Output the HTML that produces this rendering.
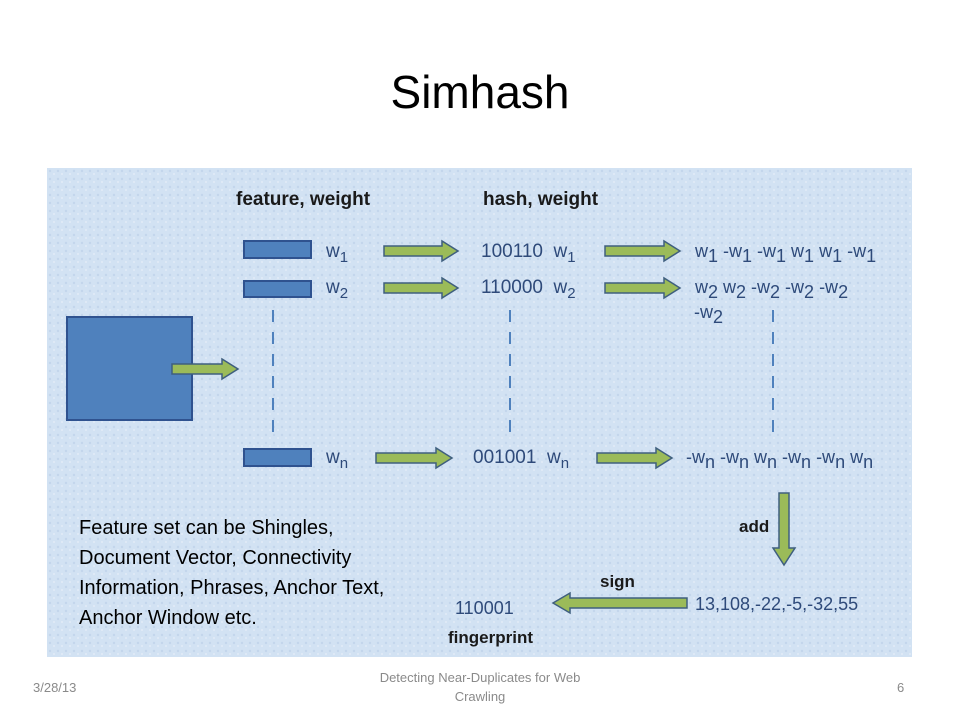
<!DOCTYPE html>
<html><head><meta charset="utf-8"><style>
body{margin:0;background:#fff;}
svg{display:block;font-family:"Liberation Sans",sans-serif;}
</style></head><body>
<svg width="960" height="720" viewBox="0 0 960 720" xmlns="http://www.w3.org/2000/svg">
<defs>
<pattern id="tx" width="8" height="8" patternUnits="userSpaceOnUse">
<rect width="8" height="8" fill="#d2e2f3"/><circle cx="2" cy="3" r="1.2" fill="#c3d6ec"/><circle cx="6" cy="6" r="1" fill="#e2ecf8"/>
</pattern>
</defs>
<text x="480" y="108" font-size="46" text-anchor="middle" fill="#000">Simhash</text>
<rect x="47" y="168" width="865" height="489" fill="url(#tx)"/>
<g font-weight="bold" font-size="19" fill="#1a1a1a">
<text x="236" y="205">feature, weight</text>
<text x="483" y="205">hash, weight</text>
<text x="739" y="532" font-size="17">add</text>
<text x="600" y="587" font-size="17">sign</text>
<text x="448" y="643" font-size="17">fingerprint</text>
<text x="95" y="376" font-size="16" fill="#fff">Doc.</text>
</g>
<g fill="#4f81bd" stroke="#2f528f" stroke-width="2">
<rect x="67" y="317" width="125" height="103"/>
<rect x="244" y="241" width="67" height="17"/>
<rect x="244" y="281" width="67" height="16"/>
<rect x="244" y="449" width="67" height="17"/>
</g>
<g fill="#9bbb59" stroke="#3f5f7f" stroke-width="1.5">
<polygon points="384,246 442,246 442,241 458,251 442,261 442,256 384,256"/>
<polygon points="605,246 664,246 664,241 680,251 664,261 664,256 605,256"/>
<polygon points="384,283 442,283 442,278 458,288 442,298 442,293 384,293"/>
<polygon points="605,283 664,283 664,278 680,288 664,298 664,293 605,293"/>
<polygon points="376,453 436,453 436,448 452,458 436,468 436,463 376,463"/>
<polygon points="597,453 656,453 656,448 672,458 656,468 656,463 597,463"/>
<polygon points="172,364 222,364 222,359 238,369 222,379 222,374 172,374"/>
<polygon points="779,493 789,493 789,548 795,548 784,565 773,548 779,548"/>
<polygon points="687,598 570,598 570,593 553,603 570,613 570,608 687,608"/>
</g>
<g stroke="#4f81bd" stroke-width="2" stroke-dasharray="12,10">
<line x1="273" y1="310" x2="273" y2="432"/>
<line x1="510" y1="310" x2="510" y2="432"/>
<line x1="773" y1="310" x2="773" y2="432"/>
</g>
<g fill="#2e4a7a" font-size="19">
<text x="326" y="257">w<tspan font-size="15" dy="5">1</tspan></text>
<text x="481" y="257">100110 &#160;w<tspan font-size="15" dy="5">1</tspan></text>
<text x="695" y="257" font-size="18">w<tspan dy="5">1</tspan><tspan dy="-5"> -w</tspan><tspan dy="5">1</tspan><tspan dy="-5"> -w</tspan><tspan dy="5">1</tspan><tspan dy="-5"> w</tspan><tspan dy="5">1</tspan><tspan dy="-5"> w</tspan><tspan dy="5">1</tspan><tspan dy="-5"> -w</tspan><tspan dy="5">1</tspan></text>
<text x="326" y="293">w<tspan font-size="15" dy="5">2</tspan></text>
<text x="481" y="293">110000 &#160;w<tspan font-size="15" dy="5">2</tspan></text>
<text x="695" y="293" font-size="18">w<tspan dy="5">2</tspan><tspan dy="-5"> w</tspan><tspan dy="5">2</tspan><tspan dy="-5"> -w</tspan><tspan dy="5">2</tspan><tspan dy="-5"> -w</tspan><tspan dy="5">2</tspan><tspan dy="-5"> -w</tspan><tspan dy="5">2</tspan></text>
<text x="694" y="318" font-size="18">-w<tspan dy="5">2</tspan></text>
<text x="326" y="463">w<tspan font-size="15" dy="5">n</tspan></text>
<text x="473" y="463">001001 &#160;w<tspan font-size="15" dy="5">n</tspan></text>
<text x="686" y="463" font-size="18">-w<tspan dy="5">n</tspan><tspan dy="-5"> -w</tspan><tspan dy="5">n</tspan><tspan dy="-5"> w</tspan><tspan dy="5">n</tspan><tspan dy="-5"> -w</tspan><tspan dy="5">n</tspan><tspan dy="-5"> -w</tspan><tspan dy="5">n</tspan><tspan dy="-5"> w</tspan><tspan dy="5">n</tspan></text>
<text x="695" y="610" font-size="18">13,108,-22,-5,-32,55</text>
<text x="455" y="614" font-size="18">110001</text>
</g>
<g font-size="20" fill="#000">
<text x="79" y="534">Feature set can be Shingles,</text>
<text x="79" y="564">Document Vector, Connectivity</text>
<text x="79" y="594">Information, Phrases, Anchor Text,</text>
<text x="79" y="624">Anchor Window etc.</text>
</g>
<g font-size="13" fill="#8a8a8a">
<text x="33" y="692">3/28/13</text>
<text x="480" y="682" text-anchor="middle">Detecting Near-Duplicates for Web</text>
<text x="480" y="701" text-anchor="middle">Crawling</text>
<text x="897" y="692">6</text>
</g>
</svg>
</body></html>
